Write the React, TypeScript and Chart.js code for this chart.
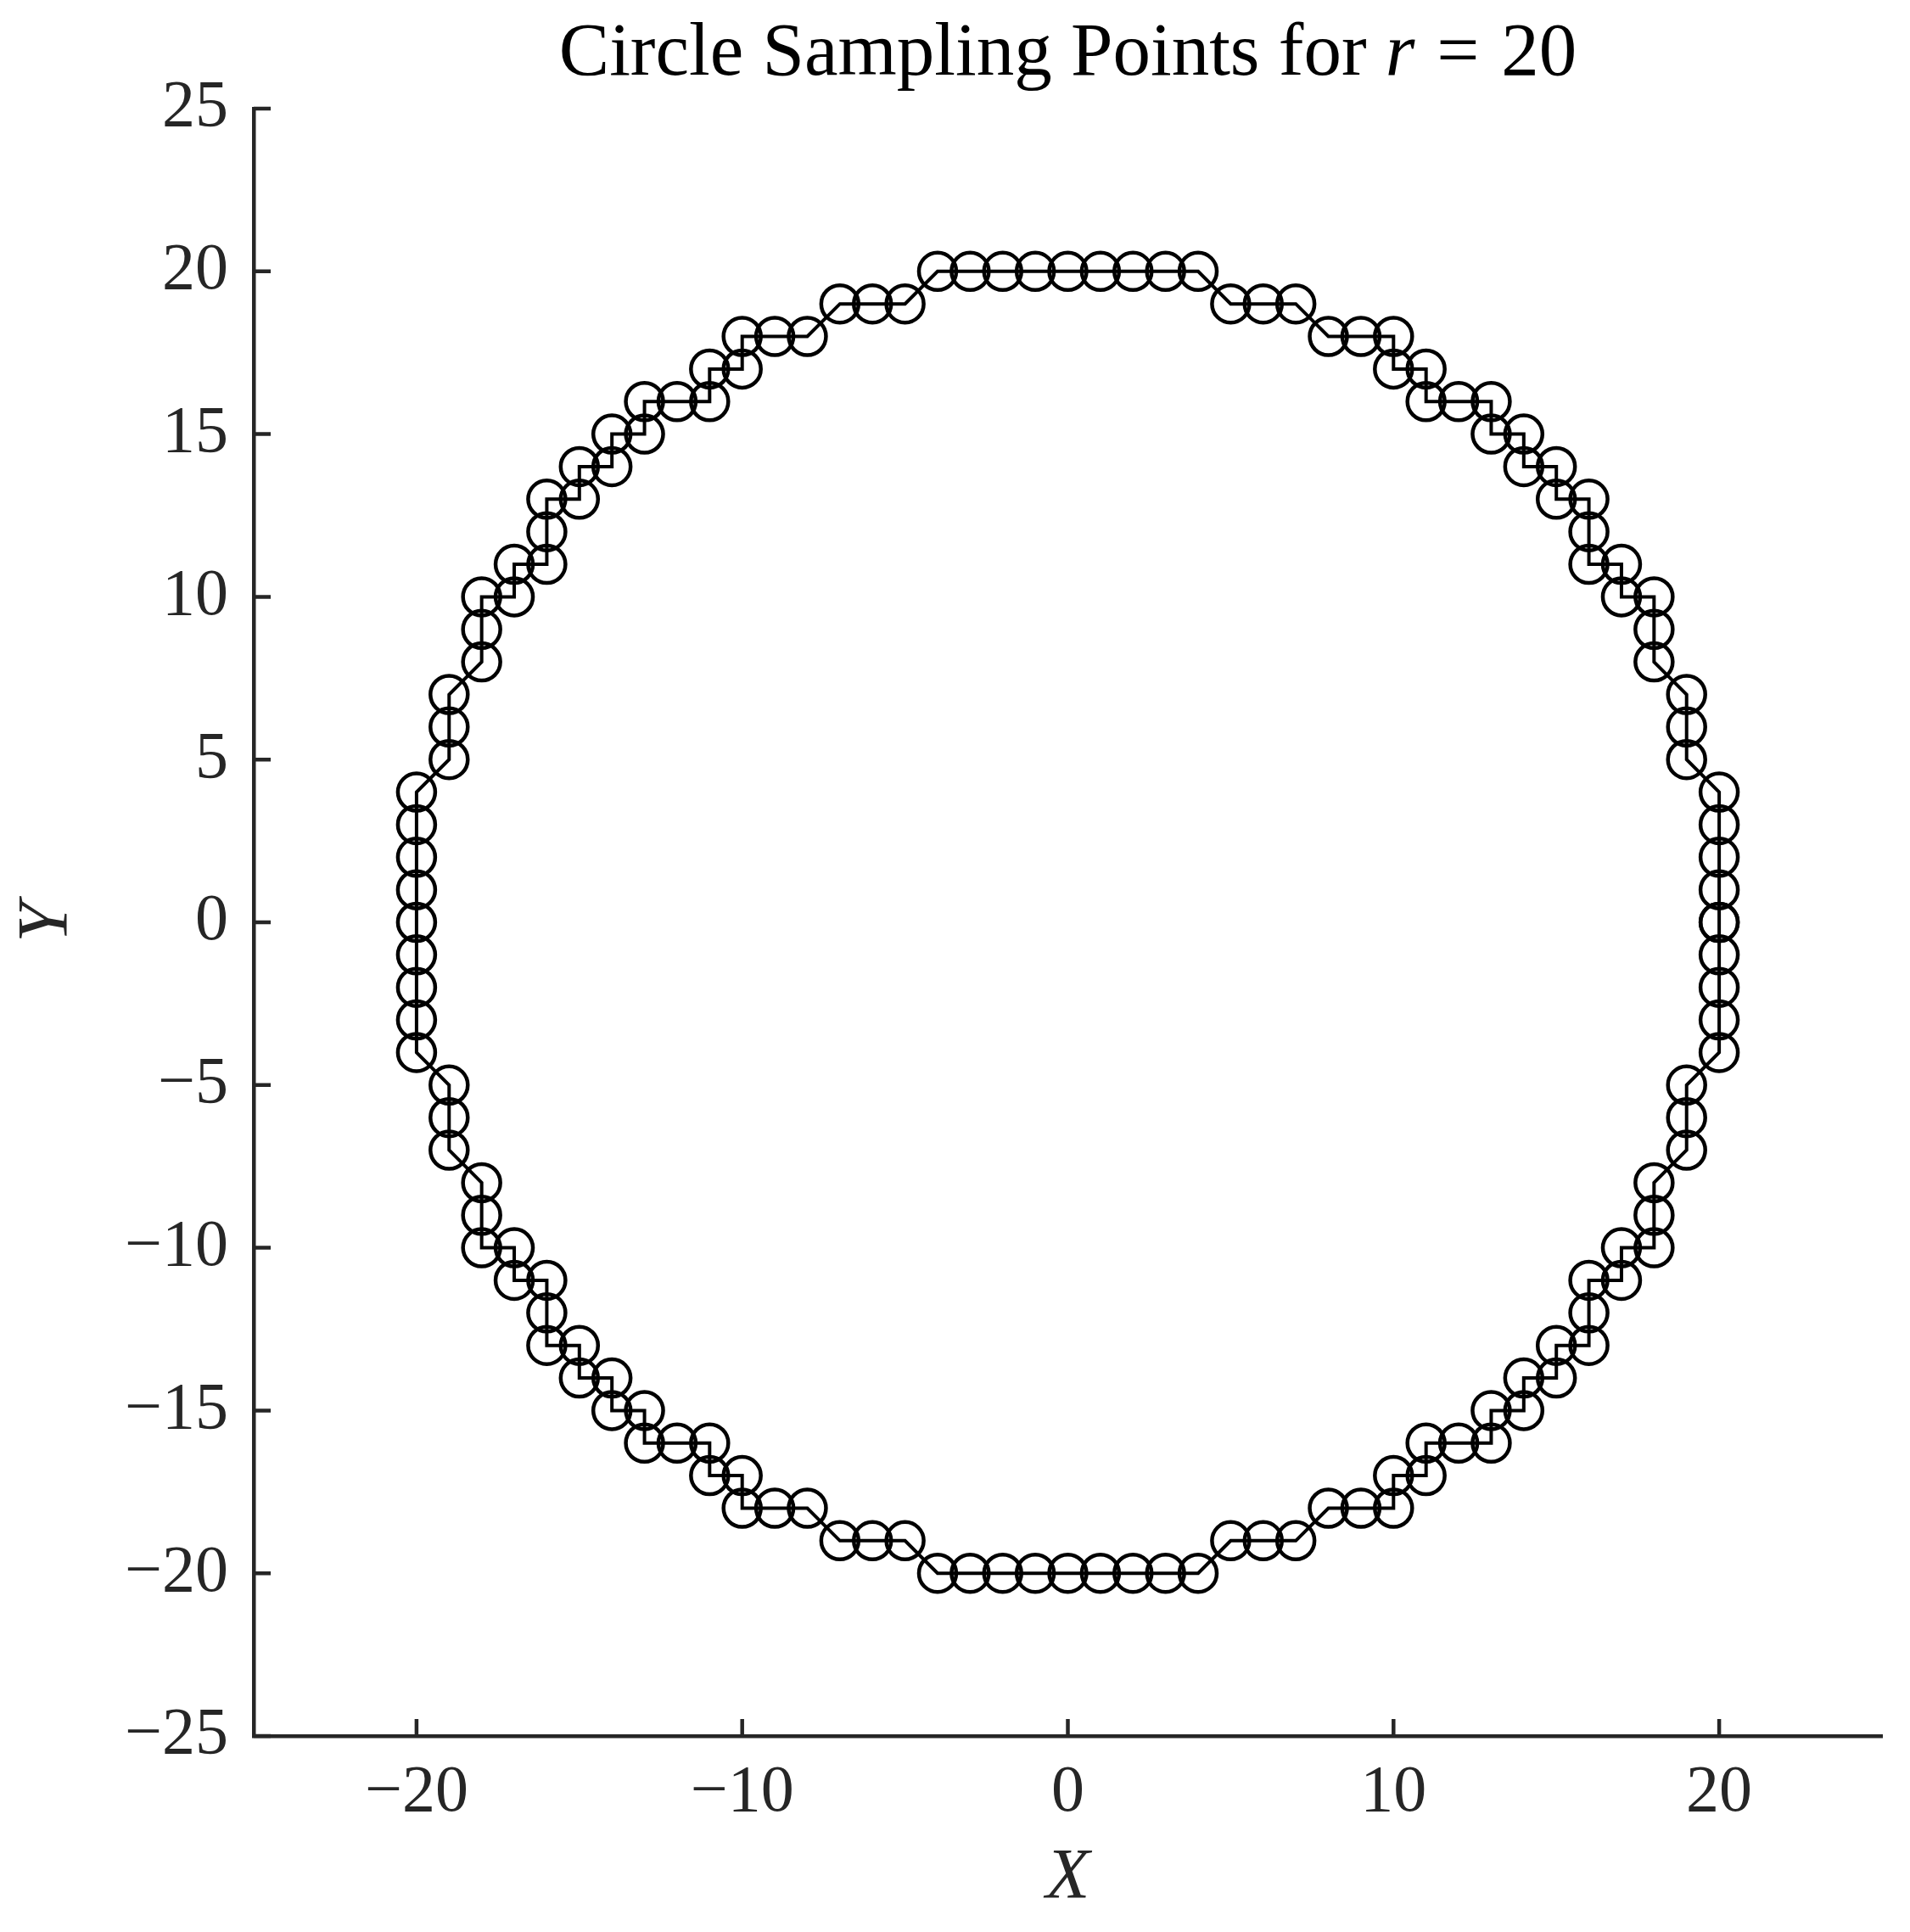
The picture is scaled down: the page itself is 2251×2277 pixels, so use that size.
import React, { useEffect, useRef } from "react";
import { Chart, registerables } from "chart.js";

Chart.register(...registerables);

// Sampled integer points of the circle r = 20, in drawing order (counter-clockwise from (20, 0)), loop closed.
const xValues = [
  20, 20, 20, 20, 20, 19, 19, 19, 18, 18, 18, 17, 17, 16, 16, 16, 15, 15, 14, 14, 13, 13, 12, 11, 11, 10, 10, 9, 8, 7, 6, 5, 4, 3, 2, 1,
  0, -1, -2, -3, -4, -5, -6, -7, -8, -9, -10, -10, -11, -11, -12, -13, -13, -14, -14, -15, -15, -16, -16, -16, -17, -17, -18, -18, -18, -19, -19, -19, -20, -20, -20, -20,
  -20, -20, -20, -20, -20, -19, -19, -19, -18, -18, -18, -17, -17, -16, -16, -16, -15, -15, -14, -14, -13, -13, -12, -11, -11, -10, -10, -9, -8, -7, -6, -5, -4, -3, -2, -1,
  0, 1, 2, 3, 4, 5, 6, 7, 8, 9, 10, 10, 11, 11, 12, 13, 13, 14, 14, 15, 15, 16, 16, 16, 17, 17, 18, 18, 18, 19, 19, 19, 20, 20, 20, 20,
  20,
];
const yValues = [
  0, 1, 2, 3, 4, 5, 6, 7, 8, 9, 10, 10, 11, 11, 12, 13, 13, 14, 14, 15, 15, 16, 16, 16, 17, 17, 18, 18, 18, 19, 19, 19, 20, 20, 20, 20,
  20, 20, 20, 20, 20, 19, 19, 19, 18, 18, 18, 17, 17, 16, 16, 16, 15, 15, 14, 14, 13, 13, 12, 11, 11, 10, 10, 9, 8, 7, 6, 5, 4, 3, 2, 1,
  0, -1, -2, -3, -4, -5, -6, -7, -8, -9, -10, -10, -11, -11, -12, -13, -13, -14, -14, -15, -15, -16, -16, -16, -17, -17, -18, -18, -18, -19, -19, -19, -20, -20, -20, -20,
  -20, -20, -20, -20, -20, -19, -19, -19, -18, -18, -18, -17, -17, -16, -16, -16, -15, -15, -14, -14, -13, -13, -12, -11, -11, -10, -10, -9, -8, -7, -6, -5, -4, -3, -2, -1,
  0,
];

const xTicks = [-20, -10, 0, 10, 20];
const yTicks = [-25, -20, -15, -10, -5, 0, 5, 10, 15, 20, 25];

const titleParts = [
  { text: "Circle Sampling Points for ", italic: false },
  { text: "r", italic: true },
  { text: "=", italic: false },
  { text: "20", italic: false },
];
const xLabel = "X";
const yLabel = "Y";

const W = 2251;
const H = 2277;
const FONT = '"Liberation Serif", "Times New Roman", serif';
const AXIS_COLOR = "#262626";

const fmt = (v: number) => (v < 0 ? "\u2212" + Math.abs(v) : String(v));

export default function App() {
  const ref = useRef<HTMLCanvasElement>(null);

  useEffect(() => {
    document.body.style.margin = "0";
    const canvas = ref.current!;
    const points = xValues.map((x, i) => ({ x, y: yValues[i] }));

    const titlePlugin = {
      id: "mixedTitle",
      afterDraw(chart: any) {
        const ctx = chart.ctx;
        const { left, right } = chart.chartArea;
        ctx.save();
        const size = 89;
        const relGap = 0.29 * size; // TeX-like thick space around the relation
        const fonts = titleParts.map((p) => `${p.italic ? "italic " : ""}${size}px ${FONT}`);
        const widths = titleParts.map((p, i) => {
          ctx.font = fonts[i];
          return ctx.measureText(p.text).width;
        });
        const gaps = titleParts.map((p, i) => (i === 0 ? 0 : p.text === "=" || titleParts[i - 1].text === "=" ? relGap : 0));
        const total = widths.reduce((a, b) => a + b, 0) + gaps.reduce((a, b) => a + b, 0);
        let x = (left + right) / 2 - total / 2;
        ctx.fillStyle = "#000";
        ctx.textBaseline = "alphabetic";
        ctx.textAlign = "left";
        titleParts.forEach((p, i) => {
          x += gaps[i];
          ctx.font = fonts[i];
          ctx.fillText(p.text, x, 88);
          x += widths[i];
        });
        ctx.restore();
      },
    };

    const tickPlugin = {
      id: "inwardTicks",
      afterDraw(chart: any) {
        const ctx = chart.ctx;
        const { left, bottom } = chart.chartArea;
        const xs = chart.scales.x;
        const ys = chart.scales.y;
        ctx.save();
        ctx.strokeStyle = AXIS_COLOR;
        ctx.lineWidth = 4.5;
        ctx.lineCap = "butt";
        ctx.beginPath();
        xs.ticks.forEach((t: any) => {
          const p = xs.getPixelForValue(t.value);
          ctx.moveTo(p, bottom);
          ctx.lineTo(p, bottom - 20);
        });
        ys.ticks.forEach((t: any) => {
          const p = ys.getPixelForValue(t.value);
          ctx.moveTo(left, p);
          ctx.lineTo(left + 20, p);
        });
        ctx.stroke();
        ctx.restore();
      },
    };

    const chart = new Chart(canvas, {
      type: "scatter",
      data: {
        datasets: [
          {
            data: points,
            showLine: true,
            borderColor: "#000",
            borderWidth: 4,
            pointRadius: 22,
            pointBorderWidth: 4.5,
            pointBorderColor: "#000",
            pointBackgroundColor: "rgba(0,0,0,0)",
            pointStyle: "circle",
            tension: 0,
          },
        ],
      },
      options: {
        responsive: false,
        animation: false,
        devicePixelRatio: 1,
        layout: { padding: { top: 128, right: 33, bottom: 0, left: 0 } },
        plugins: {
          legend: { display: false },
          tooltip: { enabled: false },
          title: { display: false },
        },
        scales: {
          x: {
            type: "linear",
            position: "bottom",
            min: -25,
            max: 25,
            afterBuildTicks: (s: any) => {
              s.ticks = xTicks.map((v) => ({ value: v }));
            },
            afterFit: (s: any) => {
              s.height = 231;
            },
            grid: { drawOnChartArea: false, drawTicks: false },
            border: { display: true, color: AXIS_COLOR, width: 4.5 },
            ticks: {
              font: { family: FONT, size: 78 },
              color: AXIS_COLOR,
              padding: 21,
              maxRotation: 0,
              autoSkip: false,
              callback: (v: any) => fmt(Number(v)),
            },
            title: {
              display: true,
              text: xLabel,
              font: { family: FONT, size: 85, style: "italic" },
              color: AXIS_COLOR,
              padding: { top: 0, bottom: 11 },
            },
          },
          y: {
            type: "linear",
            position: "left",
            min: -25,
            max: 25,
            afterBuildTicks: (s: any) => {
              s.ticks = yTicks.map((v) => ({ value: v }));
            },
            afterFit: (s: any) => {
              s.width = 299;
            },
            grid: { drawOnChartArea: false, drawTicks: false },
            border: { display: true, color: AXIS_COLOR, width: 4.5 },
            ticks: {
              font: { family: FONT, size: 78 },
              color: AXIS_COLOR,
              padding: 30,
              autoSkip: false,
              callback: (v: any) => fmt(Number(v)),
            },
            title: {
              display: true,
              text: yLabel,
              font: { family: FONT, size: 85, style: "italic" },
              color: AXIS_COLOR,
              padding: { top: 6, bottom: 0 },
            },
          },
        },
      },
      plugins: [titlePlugin, tickPlugin],
    } as any);

    return () => chart.destroy();
  }, []);

  return (
    <div style={{ width: W, height: H }}>
      <canvas ref={ref} width={W} height={H} style={{ display: "block", width: W, height: H }} />
    </div>
  );
}
